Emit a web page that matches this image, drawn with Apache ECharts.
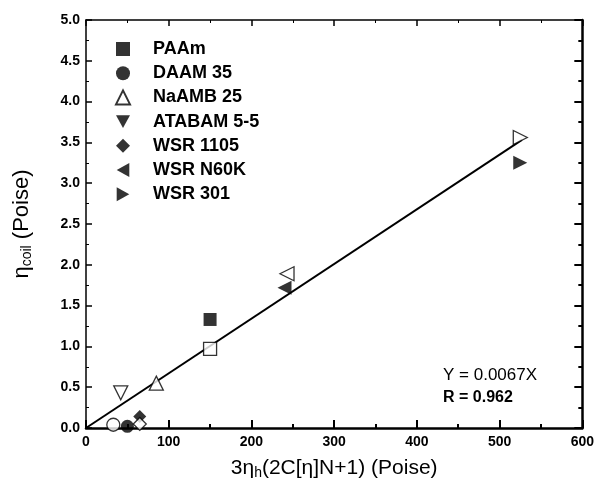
<!DOCTYPE html>
<html><head><meta charset="utf-8">
<script src="https://cdn.jsdelivr.net/npm/echarts@6/dist/echarts.min.js"></script>
<style>html,body{margin:0;padding:0;background:#fff}#c{width:597px;height:490px}</style>
</head><body><div id="c"></div>
<script>
var seriesNames = ['PAAm','DAAM 35','NaAMB 25','ATABAM 5-5','WSR 1105','WSR N60K','WSR 301'];
var filledPts = [
  [[150,1.33]],
  [[50,0.02]],
  [],
  [],
  [[65,0.14]],
  [[240,1.72]],
  [[525,3.25]]
];
var openPts = [
  [[150,0.97]],
  [[33,0.04]],
  [[85,0.55]],
  [[42,0.43]],
  [[65,0.05]],
  [[243,1.89]],
  [[525,3.56]]
];
var legendOpen = [false,false,true,false,false,false,false];
var fitLine = [[0,0],[527,3.53]];
var xTicks = [0,100,200,300,400,500,600];
var yTicks = [0,0.5,1,1.5,2,2.5,3,3.5,4,4.5,5];

var symbols = [
  'rect','circle','triangle',
  'path://M0,0 L10,0 L5,9 Z',
  'diamond',
  'path://M9,0 L9,10 L0,5 Z',
  'path://M0,0 L0,10 L9,5 Z'
];
var sizes = [13,13,14,14,13,14,14];

var series = [];
seriesNames.forEach(function(n,i){
  var lo = legendOpen[i];
  series.push({
    name:n, type:'scatter', symbol:symbols[i], symbolSize:sizes[i],
    data: lo ? openPts[i] : filledPts[i],
    itemStyle: lo ? {color:'#fff',borderColor:'#000',borderWidth:1.3} : {color:'#000',borderColor:'#000',borderWidth:0},
    z:5
  });
  var other = lo ? filledPts[i] : openPts[i];
  if (other.length) series.push({
    name:n+' (alt)', type:'scatter', symbol:symbols[i], symbolSize:sizes[i],
    data: other,
    itemStyle: lo ? {color:'#000'} : {color:'#fff',borderColor:'#000',borderWidth:1.3},
    z:5
  });
});
series.push({type:'line', data:fitLine, symbol:'none', lineStyle:{color:'#000',width:2}, z:3, silent:true});

var lbl = {fontFamily:'Liberation Sans',fontWeight:'bold',fontSize:14,color:'#000'};
var chart = echarts.init(document.getElementById('c'));
chart.setOption({
  animation:false,
  grid:{left:86,right:10,top:20,bottom:62},
  legend:{
    data: seriesNames.map(function(n){return {name:n};}),
    orient:'vertical', left:115, top:40, padding:0, itemGap:6.2, itemWidth:14, itemHeight:14,
    textStyle:{fontFamily:'Liberation Sans',fontWeight:'bold',fontSize:18,lineHeight:16,color:'#000',padding:[0,0,0,18]}
  },
  xAxis:[{
    type:'value', min:0, max:600, interval:100,
    name:'3η{sub|h}(2C[η]N+1) (Poise)', nameLocation:'middle', nameGap:28,
    nameTextStyle:{fontFamily:'Liberation Sans',fontSize:21,color:'#000',
      rich:{sub:{fontFamily:'Liberation Sans',fontSize:14,verticalAlign:'bottom',padding:[10,0,0,0],color:'#000'}}},
    axisLine:{onZero:false,lineStyle:{color:'#000',width:2.5}},
    axisTick:{inside:true,length:8,lineStyle:{color:'#000',width:2}},
    minorTick:{show:true,splitNumber:2,length:4,lineStyle:{color:'#000',width:2}},
    axisLabel:Object.assign({margin:7},lbl),
    splitLine:{show:false}
  },{
    type:'value', min:0, max:600, interval:100, position:'top',
    axisLine:{onZero:false,lineStyle:{color:'#000',width:1.5}},
    axisTick:{inside:true,length:6,lineStyle:{color:'#000',width:1.5}},
    minorTick:{show:true,splitNumber:2,length:3,lineStyle:{color:'#000'}},
    axisLabel:{show:false}, splitLine:{show:false}
  }],
  yAxis:[{
    type:'value', min:0, max:5, interval:0.5,
    name:'η{sub|coil} (Poise)', nameLocation:'middle', nameGap:52, nameRotate:90,
    nameTextStyle:{fontFamily:'Liberation Sans',fontSize:22,color:'#000',
      rich:{sub:{fontFamily:'Liberation Sans',fontSize:14,verticalAlign:'bottom',padding:[10,0,0,0],color:'#000'}}},
    axisLine:{onZero:false,lineStyle:{color:'#000',width:1.5}},
    axisTick:{inside:true,length:6,lineStyle:{color:'#000',width:1.5}},
    minorTick:{show:true,splitNumber:2,length:3,lineStyle:{color:'#000'}},
    axisLabel:Object.assign({margin:6,formatter:function(v){return v.toFixed(1);}},lbl),
    splitLine:{show:false}
  },{
    type:'value', min:0, max:5, interval:0.5, position:'right',
    axisLine:{onZero:false,lineStyle:{color:'#000',width:2.5}},
    axisTick:{inside:true,length:8,lineStyle:{color:'#000',width:2}},
    minorTick:{show:true,splitNumber:2,length:4,lineStyle:{color:'#000',width:2}},
    axisLabel:{show:false}, splitLine:{show:false}
  }],
  graphic:[
    {type:'text',left:443,top:367,style:{text:'Y = 0.0067X',font:'17px "Liberation Sans"',fill:'#000'}},
    {type:'text',left:443,top:390,style:{text:'R = 0.962',font:'bold 16px "Liberation Sans"',fill:'#000'}}
  ],
  series:series
});
</script></body></html>
